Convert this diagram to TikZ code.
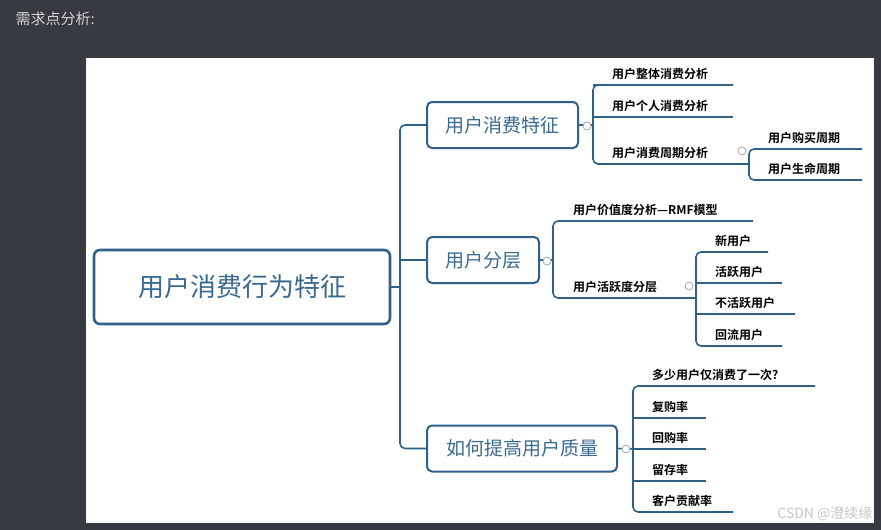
\documentclass[tikz,border=0pt]{standalone}
\usepackage{fontspec}
\setmainfont{Noto Sans CJK SC}
\newfontfamily\cjkb{Noto Sans CJK SC Bold}
\begin{document}
\begin{tikzpicture}[x=1pt,y=-1pt,
  ln/.style={draw=lineblue,line width=1.6pt,rounded corners=5pt},
  bx/.style={draw=lineblue,line width=2pt,rounded corners=5pt,text=txtblue,font=\fontsize{19}{19}\selectfont,inner sep=0pt},
  lf/.style={anchor=south west,font=\cjkb\fontsize{12}{12}\selectfont,inner sep=1pt},
  knob/.style={circle,draw=gray!70,line width=0.8pt,fill=white,minimum size=8pt,inner sep=0pt}]
\definecolor{lineblue}{HTML}{2F6189}
\definecolor{txtblue}{HTML}{3A6A90}
\definecolor{bg}{HTML}{373A40}
\fill[bg] (0,0) rectangle (881,530);
\useasboundingbox (0,0) rectangle (881,530);
\fill[white] (86,58) rectangle (874,523);
\node[anchor=west,text=gray!35,font=\fontsize{15}{15}\selectfont] (hdr) at (12,19) {需求点分析:};
% root
\node[draw=lineblue,line width=2.6pt,rounded corners=6pt,minimum width=296pt,minimum height=74pt,text=txtblue,font=\fontsize{26}{26}\selectfont] (root) at (242,287) {用户消费行为特征};
\node[bx,minimum width=151pt,minimum height=46pt] (b1) at (502.5,125) {用户消费特征};
\node[bx,minimum width=112pt,minimum height=46pt] (b2) at (483,260) {用户分层};
\node[bx,minimum width=190pt,minimum height=46pt] (b3) at (522,448.5) {如何提高用户质量};
\draw[ln] (root.east) -- (400,287);
\draw[ln] (b1.west) -- (400,125) -- (400,448.5) -- (b3.west);
\draw[ln] (400,260) -- (b2.west);
% branch 1
\draw[ln] (593,85) -- (733,85) (593,117) -- (733,117);
\draw[ln] (733,85) -- (593,85) -- (593,164) -- (749,164);
\draw[ln] (593,125) -- (b1.east);
\draw[ln] (862,149) -- (749,149) -- (749,180) -- (862,180);
\node[knob] (k1) at (587,126) {};
\node[knob] (k11) at (742,151) {};
\node[lf] (l11) at (611,81) {用户整体消费分析};
\node[lf] (l12) at (611,113) {用户个人消费分析};
\node[lf] (l13) at (611,160) {用户消费周期分析};
\node[lf] (l131) at (767,145) {用户购买周期};
\node[lf] (l132) at (767,176) {用户生命周期};
% branch 2
\draw[ln] (753,221) -- (553,221) -- (553,298) -- (696,298);
\draw[ln] (553,260) -- (b2.east);
\draw[ln] (768,252) -- (696,252) -- (696,346) -- (782,346);
\draw[ln] (696,283) -- (782,283) (696,314) -- (795,314);
\node[knob] (k2) at (547,261) {};
\node[knob] (k21) at (689,286) {};
\node[lf] (l21) at (572,217) {用户价值度分析—RMF模型};
\node[lf] (l22) at (572,294) {用户活跃度分层};
\node[lf] (l221) at (714,248) {新用户};
\node[lf] (l222) at (714,279) {活跃用户};
\node[lf] (l223) at (714,310) {不活跃用户};
\node[lf] (l224) at (714,342) {回流用户};
% branch 3
\draw[ln] (815,386) -- (633,386) -- (633,512) -- (733,512);
\draw[ln] (633,418) -- (706,418) (633,449) -- (706,449) (633,481) -- (706,481);
\draw[ln] (633,449) -- (b3.east);
\node[knob] (k3) at (626,449) {};
\node[lf] (l31) at (651,382) {多少用户仅消费了一次?};
\node[lf] (l32) at (651,414) {复购率};
\node[lf] (l33) at (651,445) {回购率};
\node[lf] (l34) at (651,477) {留存率};
\node[lf] (l35) at (651,508) {客户贡献率};
\node[anchor=east,text=gray!45,font=\fontsize{14}{14}\selectfont] (wm) at (876,514) {CSDN @澄续缘};
\end{tikzpicture}
\end{document}
